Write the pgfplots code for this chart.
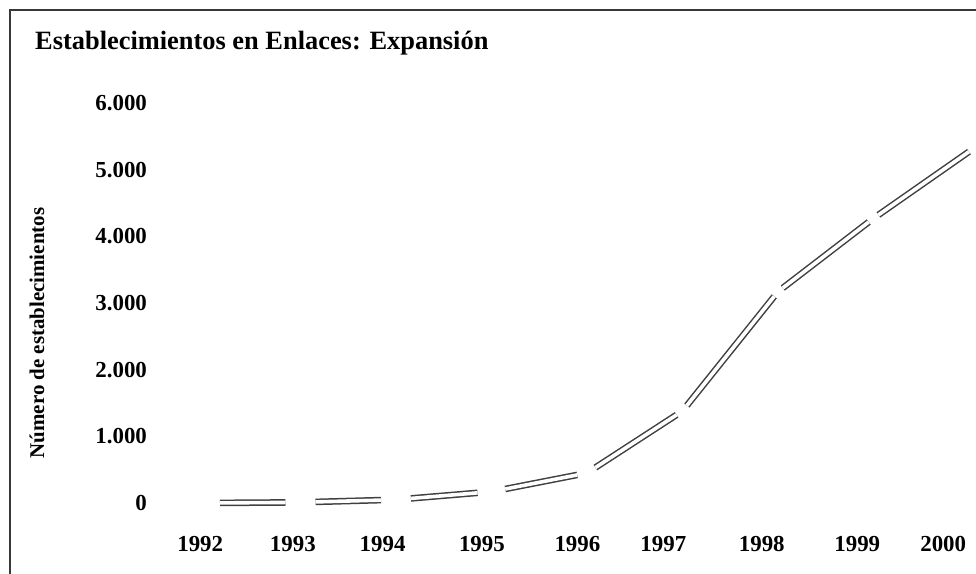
\documentclass[border=0pt]{standalone}
\usepackage{fontspec}
\setmainfont{Liberation Serif}
\usepackage{pgfplots}
\pgfplotsset{compat=1.18}
\usepackage{pgfplotstable}

\pgfplotstableread{
year n
1992 0
1993 10
1994 50
1995 170
1996 450
1997 1380
1998 3170
1999 4270
2000 5270
}\datatable

\begin{document}
\begin{tikzpicture}
\path[use as bounding box] (0bp,0bp) rectangle (976bp,-574bp);
\draw[line width=2.5bp, color=black!78] (10bp,-580bp) -- (10bp,-10bp) -- (980bp,-10bp);
\node[anchor=base west, inner sep=0pt, font=\fontsize{26.5}{31}\selectfont\bfseries] at (35bp,-49bp) {Establecimientos en Enlaces: Expansión};
\node[rotate=90, inner sep=0pt, font=\fontsize{21}{25}\selectfont\bfseries] at (37bp,-333bp) {Número de establecimientos};
\begin{axis}[
  at={(195.45bp,-503bp)}, anchor=south west,
  scale only axis, width=773.55bp, height=400bp,
  xmin=1991.9, xmax=2000, ymin=0, ymax=6000,
  clip=false,
  axis line style={draw=none},
  major tick length=0pt,
  ytick={0,1000,2000,3000,4000,5000,6000},
  yticklabels={0,1.000,2.000,3.000,4.000,5.000,6.000},
  xtick={1991.95,1992.92,1993.86,1994.90,1995.90,1996.80,1997.83,1998.83,1999.73},
  xticklabels={1992,1993,1994,1995,1996,1997,1998,1999,2000},
  ticklabel style={font=\fontsize{23}{27}\selectfont\bfseries},
  yticklabel style={xshift=-45bp},
  xticklabel style={yshift=-30bp},
  seg/.style={draw=black!75, double=white, double distance=3.6bp, line width=1.5bp, no markers},
]
\addplot[seg, restrict x to domain=1992:1993, shorten <=15bp, shorten >=15bp] table[x=year,y=n]{\datatable};
\addplot[seg, restrict x to domain=1993:1994, shorten <=15bp, shorten >=15bp] table[x=year,y=n]{\datatable};
\addplot[seg, restrict x to domain=1994:1995, shorten <=15bp, shorten >=14bp] table[x=year,y=n]{\datatable};
\addplot[seg, restrict x to domain=1995:1996, shorten <=14bp, shorten >=10bp] table[x=year,y=n]{\datatable};
\addplot[seg, restrict x to domain=1996:1997, shorten <=10bp, shorten >=7bp] table[x=year,y=n]{\datatable};
\addplot[seg, restrict x to domain=1997:1998, shorten <=7bp, shorten >=6bp] table[x=year,y=n]{\datatable};
\addplot[seg, restrict x to domain=1998:1999, shorten <=6bp, shorten >=6bp] table[x=year,y=n]{\datatable};
\addplot[seg, restrict x to domain=1999:2000, shorten <=6bp] table[x=year,y=n]{\datatable};
\end{axis}
\end{tikzpicture}
\end{document}
